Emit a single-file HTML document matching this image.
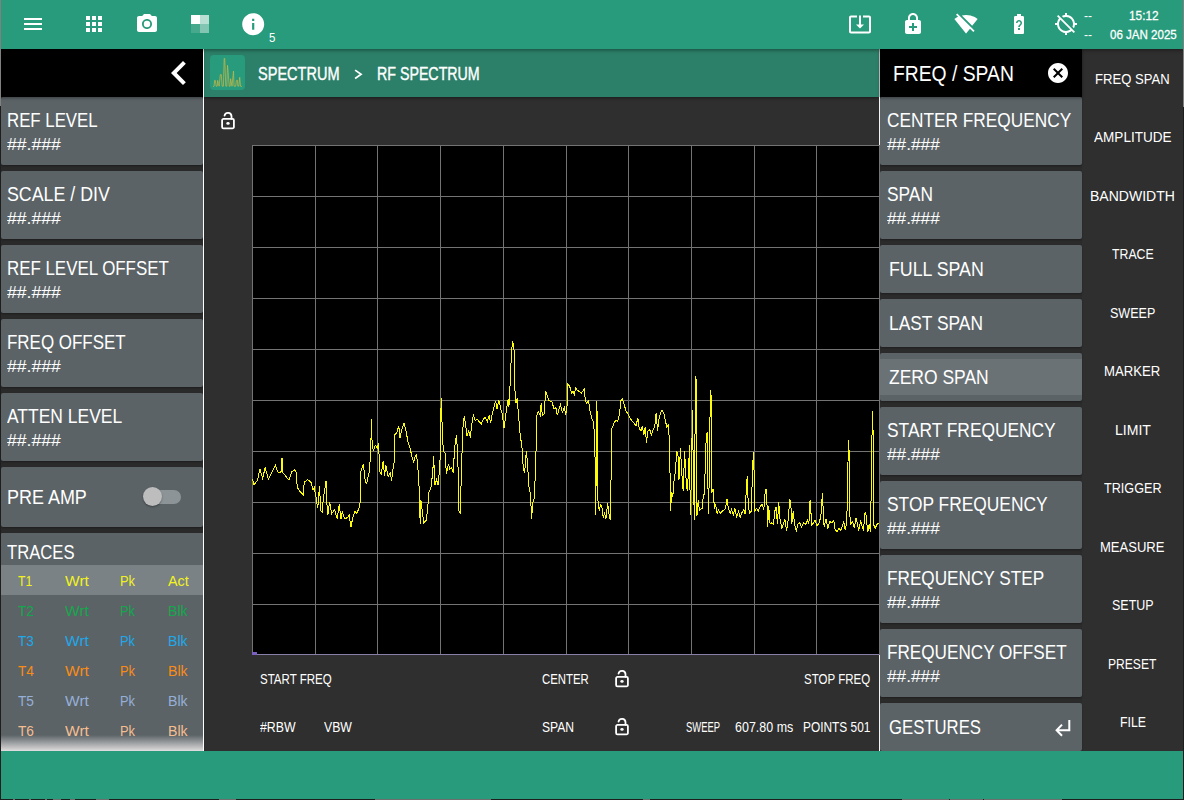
<!DOCTYPE html>
<html lang="en">
<head>
<meta charset="utf-8">
<title>Spectrum Analyzer - RF Spectrum</title>
<style>
html,body{margin:0;padding:0}
body{width:1184px;height:800px;position:relative;overflow:hidden;background:#2f2f2f;font-family:"Liberation Sans",sans-serif;color:#fff}
#app{position:absolute;left:0;top:0;width:1184px;height:800px;overflow:hidden}
#app div,#app span,#app svg{position:absolute}
.p{}
.b{background:#5b6367;border-radius:2px;box-shadow:0 1px 2px rgba(0,0,0,.3)}
.t{z-index:6;white-space:nowrap;transform-origin:0 0;display:block}
.ov{left:0;top:0;pointer-events:none;z-index:3}
#top{left:0;top:0;width:1184px;height:49px;background:#289b7c;box-shadow:0 1px 4px rgba(0,0,0,.45);z-index:5}
#bot{left:0;top:751px;width:1184px;height:47.5px;background:#289b7c}
#strip{left:0;top:798.5px;width:1184px;height:1.5px;background:#1e1e1e}
#strip i{position:absolute;top:0;height:2px;background:#6e6e6e}
svg.i{fill:#fff;z-index:4}
</style>
</head>
<body>
<div id="app">
<div class="p" style="left:0px;top:49px;width:203px;height:48px;background:#000;box-shadow:0 1px 3px rgba(0,0,0,.4);z-index:2"></div>
<div class="p" style="left:0px;top:97px;width:203px;height:654px;background:#2a2a2a"></div>
<div class="p" style="left:204px;top:49px;width:675px;height:48px;background:#2c8069;box-shadow:0 1px 3px rgba(0,0,0,.45)"></div>
<div class="p" style="left:880px;top:49px;width:202px;height:48px;background:#000;box-shadow:0 1px 3px rgba(0,0,0,.4);z-index:2"></div>
<div class="p" style="left:880px;top:97px;width:202px;height:654px;background:#2b2b2b"></div>
<div class="p" style="left:202.9px;top:49px;width:1.3px;height:702px;background:#fff;z-index:3"></div>
<div class="p" style="left:879px;top:49px;width:1.2px;height:48px;background:#b4b4b4;z-index:3"></div>
<div class="p" style="left:879px;top:97px;width:1.2px;height:654px;background:#f4f4f4;z-index:3"></div>
<div class="p" style="left:252px;top:145px;width:627px;height:510px;background:#000"></div>
<div class="b" style="left:1px;top:97px;width:201.8px;height:68px;"></div>
<span class="t " style="left:7.30px;top:110.20px;font-size:20.6px;line-height:20.6px;transform:scaleX(0.8163);">REF LEVEL</span>
<span class="t " style="left:7.40px;top:136.90px;font-size:16.8px;line-height:16.8px;transform:scaleX(1.0486);">##.###</span>
<div class="b" style="left:1px;top:171px;width:201.8px;height:68px;"></div>
<span class="t " style="left:7.30px;top:184.20px;font-size:20.6px;line-height:20.6px;transform:scaleX(0.8639);">SCALE / DIV</span>
<span class="t " style="left:7.40px;top:210.90px;font-size:16.8px;line-height:16.8px;transform:scaleX(1.0486);">##.###</span>
<div class="b" style="left:1px;top:245px;width:201.8px;height:68px;"></div>
<span class="t " style="left:7.30px;top:258.20px;font-size:20.6px;line-height:20.6px;transform:scaleX(0.8202);">REF LEVEL OFFSET</span>
<span class="t " style="left:7.40px;top:284.90px;font-size:16.8px;line-height:16.8px;transform:scaleX(1.0486);">##.###</span>
<div class="b" style="left:1px;top:319px;width:201.8px;height:68px;"></div>
<span class="t " style="left:7.30px;top:332.20px;font-size:20.6px;line-height:20.6px;transform:scaleX(0.8232);">FREQ OFFSET</span>
<span class="t " style="left:7.40px;top:358.90px;font-size:16.8px;line-height:16.8px;transform:scaleX(1.0486);">##.###</span>
<div class="b" style="left:1px;top:393px;width:201.8px;height:68px;"></div>
<span class="t " style="left:7.30px;top:406.20px;font-size:20.6px;line-height:20.6px;transform:scaleX(0.8481);">ATTEN LEVEL</span>
<span class="t " style="left:7.40px;top:432.90px;font-size:16.8px;line-height:16.8px;transform:scaleX(1.0486);">##.###</span>
<div class="b" style="left:1px;top:467px;width:201.8px;height:60px;"></div>
<span class="t " style="left:7.10px;top:487.00px;font-size:20.6px;line-height:20.6px;transform:scaleX(0.8719);">PRE AMP</span>
<div class="p" style="left:146px;top:490px;width:35px;height:14px;background:#8d9497;border-radius:7px"></div>
<div class="p" style="left:143px;top:487px;width:19px;height:19px;background:#bdbdbd;border-radius:50%;box-shadow:0 1px 2px rgba(0,0,0,.35)"></div>
<div class="b" style="left:1px;top:533px;width:202px;height:218px;border-radius:1px 0 0 0"></div>
<span class="t " style="left:7.30px;top:541.70px;font-size:20.6px;line-height:20.6px;transform:scaleX(0.8082);">TRACES</span>
<div class="p" style="left:1px;top:565px;width:202px;height:30px;background:#7a8286"></div>
<span class="t " style="left:18.30px;top:574.00px;font-size:14.5px;line-height:14.5px;color:#f2f21e;transform:scaleX(0.8415);">T1</span>
<span class="t " style="left:64.80px;top:574.00px;font-size:14.5px;line-height:14.5px;color:#f2f21e;transform:scaleX(1.0742);">Wrt</span>
<span class="t " style="left:120.10px;top:574.00px;font-size:14.5px;line-height:14.5px;color:#f2f21e;transform:scaleX(0.8882);">Pk</span>
<span class="t " style="left:167.60px;top:574.00px;font-size:14.5px;line-height:14.5px;color:#f2f21e;transform:scaleX(0.9905);">Act</span>
<span class="t " style="left:18.20px;top:604.00px;font-size:14.5px;line-height:14.5px;color:#14a84c;transform:scaleX(0.9422);">T2</span>
<span class="t " style="left:64.80px;top:604.00px;font-size:14.5px;line-height:14.5px;color:#14a84c;transform:scaleX(1.0742);">Wrt</span>
<span class="t " style="left:120.10px;top:604.00px;font-size:14.5px;line-height:14.5px;color:#14a84c;transform:scaleX(0.8882);">Pk</span>
<span class="t " style="left:168.40px;top:604.00px;font-size:14.5px;line-height:14.5px;color:#14a84c;transform:scaleX(0.9728);">Blk</span>
<span class="t " style="left:18.20px;top:634.00px;font-size:14.5px;line-height:14.5px;color:#1fa8ea;transform:scaleX(0.9422);">T3</span>
<span class="t " style="left:64.80px;top:634.00px;font-size:14.5px;line-height:14.5px;color:#1fa8ea;transform:scaleX(1.0742);">Wrt</span>
<span class="t " style="left:120.10px;top:634.00px;font-size:14.5px;line-height:14.5px;color:#1fa8ea;transform:scaleX(0.8882);">Pk</span>
<span class="t " style="left:168.40px;top:634.00px;font-size:14.5px;line-height:14.5px;color:#1fa8ea;transform:scaleX(0.9728);">Blk</span>
<span class="t " style="left:18.20px;top:664.00px;font-size:14.5px;line-height:14.5px;color:#fa8c16;transform:scaleX(0.9422);">T4</span>
<span class="t " style="left:64.80px;top:664.00px;font-size:14.5px;line-height:14.5px;color:#fa8c16;transform:scaleX(1.0742);">Wrt</span>
<span class="t " style="left:120.10px;top:664.00px;font-size:14.5px;line-height:14.5px;color:#fa8c16;transform:scaleX(0.8882);">Pk</span>
<span class="t " style="left:168.40px;top:664.00px;font-size:14.5px;line-height:14.5px;color:#fa8c16;transform:scaleX(0.9728);">Blk</span>
<span class="t " style="left:18.20px;top:694.00px;font-size:14.5px;line-height:14.5px;color:#96afd7;transform:scaleX(0.9422);">T5</span>
<span class="t " style="left:64.80px;top:694.00px;font-size:14.5px;line-height:14.5px;color:#96afd7;transform:scaleX(1.0742);">Wrt</span>
<span class="t " style="left:120.10px;top:694.00px;font-size:14.5px;line-height:14.5px;color:#96afd7;transform:scaleX(0.8882);">Pk</span>
<span class="t " style="left:168.40px;top:694.00px;font-size:14.5px;line-height:14.5px;color:#96afd7;transform:scaleX(0.9728);">Blk</span>
<span class="t " style="left:18.20px;top:724.00px;font-size:14.5px;line-height:14.5px;color:#f5be91;transform:scaleX(0.9422);">T6</span>
<span class="t " style="left:64.80px;top:724.00px;font-size:14.5px;line-height:14.5px;color:#f5be91;transform:scaleX(1.0742);">Wrt</span>
<span class="t " style="left:120.10px;top:724.00px;font-size:14.5px;line-height:14.5px;color:#f5be91;transform:scaleX(0.8882);">Pk</span>
<span class="t " style="left:168.40px;top:724.00px;font-size:14.5px;line-height:14.5px;color:#f5be91;transform:scaleX(0.9728);">Blk</span>
<div class="p" style="left:1px;top:735px;width:202px;height:16px;background:linear-gradient(to bottom,rgba(228,225,225,0),rgba(228,225,225,.97))"></div>
<div class="b" style="left:880px;top:97px;width:202px;height:68px;"></div>
<span class="t " style="left:886.80px;top:110.20px;font-size:20.6px;line-height:20.6px;transform:scaleX(0.8383);">CENTER FREQUENCY</span>
<span class="t " style="left:886.80px;top:136.90px;font-size:16.8px;line-height:16.8px;transform:scaleX(1.0272);">##.###</span>
<div class="b" style="left:880px;top:171px;width:202px;height:68px;"></div>
<span class="t " style="left:886.80px;top:184.20px;font-size:20.6px;line-height:20.6px;transform:scaleX(0.8413);">SPAN</span>
<span class="t " style="left:886.80px;top:210.90px;font-size:16.8px;line-height:16.8px;transform:scaleX(1.0272);">##.###</span>
<div class="b" style="left:880px;top:245px;width:202px;height:48px;"></div>
<span class="t " style="left:888.80px;top:258.80px;font-size:20.6px;line-height:20.6px;transform:scaleX(0.8629);">FULL SPAN</span>
<div class="b" style="left:880px;top:299px;width:202px;height:48px;"></div>
<span class="t " style="left:888.80px;top:312.80px;font-size:20.6px;line-height:20.6px;transform:scaleX(0.8431);">LAST SPAN</span>
<div class="b" style="left:880px;top:353px;width:202px;height:48px;"></div>
<div class="p" style="left:880px;top:359px;width:202px;height:36px;background:#6b7276"></div>
<span class="t " style="left:888.80px;top:366.80px;font-size:20.6px;line-height:20.6px;transform:scaleX(0.8486);">ZERO SPAN</span>
<div class="b" style="left:880px;top:407px;width:202px;height:68px;"></div>
<span class="t " style="left:886.80px;top:420.20px;font-size:20.6px;line-height:20.6px;transform:scaleX(0.8424);">START FREQUENCY</span>
<span class="t " style="left:886.80px;top:446.90px;font-size:16.8px;line-height:16.8px;transform:scaleX(1.0272);">##.###</span>
<div class="b" style="left:880px;top:481px;width:202px;height:68px;"></div>
<span class="t " style="left:886.80px;top:494.20px;font-size:20.6px;line-height:20.6px;transform:scaleX(0.8440);">STOP FREQUENCY</span>
<span class="t " style="left:886.80px;top:520.90px;font-size:16.8px;line-height:16.8px;transform:scaleX(1.0272);">##.###</span>
<div class="b" style="left:880px;top:555px;width:202px;height:68px;"></div>
<span class="t " style="left:886.80px;top:568.20px;font-size:20.6px;line-height:20.6px;transform:scaleX(0.8339);">FREQUENCY STEP</span>
<span class="t " style="left:886.80px;top:594.90px;font-size:16.8px;line-height:16.8px;transform:scaleX(1.0272);">##.###</span>
<div class="b" style="left:880px;top:629px;width:202px;height:68px;"></div>
<span class="t " style="left:886.80px;top:642.20px;font-size:20.6px;line-height:20.6px;transform:scaleX(0.8320);">FREQUENCY OFFSET</span>
<span class="t " style="left:886.80px;top:668.90px;font-size:16.8px;line-height:16.8px;transform:scaleX(1.0272);">##.###</span>
<div class="b" style="left:880px;top:703px;width:202px;height:48px;"></div>
<span class="t " style="left:888.80px;top:716.80px;font-size:20.6px;line-height:20.6px;transform:scaleX(0.8116);">GESTURES</span>
<span class="t " style="left:893.00px;top:62.80px;font-size:22px;line-height:22px;transform:scaleX(0.8777);">FREQ / SPAN</span>
<span class="t " style="left:1095.20px;top:71.90px;font-size:14.5px;line-height:14.5px;transform:scaleX(0.9015);">FREQ SPAN</span>
<span class="t " style="left:1093.70px;top:130.40px;font-size:14.5px;line-height:14.5px;transform:scaleX(0.9349);">AMPLITUDE</span>
<span class="t " style="left:1090.10px;top:188.90px;font-size:14.5px;line-height:14.5px;transform:scaleX(0.9664);">BANDWIDTH</span>
<span class="t " style="left:1111.65px;top:247.40px;font-size:14.5px;line-height:14.5px;transform:scaleX(0.8489);">TRACE</span>
<span class="t " style="left:1109.85px;top:305.90px;font-size:14.5px;line-height:14.5px;transform:scaleX(0.8649);">SWEEP</span>
<span class="t " style="left:1104.45px;top:364.40px;font-size:14.5px;line-height:14.5px;transform:scaleX(0.9048);">MARKER</span>
<span class="t " style="left:1114.55px;top:422.90px;font-size:14.5px;line-height:14.5px;transform:scaleX(0.9703);">LIMIT</span>
<span class="t " style="left:1103.75px;top:481.40px;font-size:14.5px;line-height:14.5px;transform:scaleX(0.8712);">TRIGGER</span>
<span class="t " style="left:1100.25px;top:539.90px;font-size:14.5px;line-height:14.5px;transform:scaleX(0.8990);">MEASURE</span>
<span class="t " style="left:1111.70px;top:598.40px;font-size:14.5px;line-height:14.5px;transform:scaleX(0.8599);">SETUP</span>
<span class="t " style="left:1108.35px;top:656.90px;font-size:14.5px;line-height:14.5px;transform:scaleX(0.8328);">PRESET</span>
<span class="t " style="left:1119.50px;top:715.40px;font-size:14.5px;line-height:14.5px;transform:scaleX(0.8490);">FILE</span>
<span class="t " style="left:258.30px;top:65.00px;font-size:18.9px;line-height:18.9px;transform:scaleX(0.7697);-webkit-text-stroke:.4px #fff;">SPECTRUM</span>
<span class="t " style="left:376.60px;top:65.00px;font-size:18.9px;line-height:18.9px;transform:scaleX(0.7528);-webkit-text-stroke:.4px #fff;">RF SPECTRUM</span>
<span class="t " style="left:260.30px;top:672.10px;font-size:14.5px;line-height:14.5px;transform:scaleX(0.7945);">START FREQ</span>
<span class="t " style="left:542.20px;top:672.10px;font-size:14.5px;line-height:14.5px;transform:scaleX(0.7849);">CENTER</span>
<span class="t " style="left:804.30px;top:672.10px;font-size:14.5px;line-height:14.5px;transform:scaleX(0.7952);">STOP FREQ</span>
<span class="t " style="left:260.30px;top:720.00px;font-size:14.5px;line-height:14.5px;transform:scaleX(0.8500);">#RBW</span>
<span class="t " style="left:324.00px;top:720.00px;font-size:14.5px;line-height:14.5px;transform:scaleX(0.8453);">VBW</span>
<span class="t " style="left:542.20px;top:720.00px;font-size:14.5px;line-height:14.5px;transform:scaleX(0.8365);">SPAN</span>
<span class="t " style="left:685.70px;top:720.00px;font-size:14.5px;line-height:14.5px;transform:scaleX(0.6511);">SWEEP</span>
<span class="t " style="left:735.30px;top:720.00px;font-size:14.5px;line-height:14.5px;transform:scaleX(0.8605);">607.80 ms</span>
<span class="t " style="left:802.80px;top:720.00px;font-size:14.5px;line-height:14.5px;transform:scaleX(0.8195);">POINTS 501</span>
<span class="t " style="left:268.60px;top:31.20px;font-size:13px;line-height:13px;transform:scaleX(0.8828);">5</span>
<span class="t " style="left:1128.50px;top:8.70px;font-size:13.5px;line-height:13.5px;transform:scaleX(0.8741);-webkit-text-stroke:.3px #fff;">15:12</span>
<span class="t " style="left:1109.60px;top:27.80px;font-size:13.5px;line-height:13.5px;transform:scaleX(0.8551);-webkit-text-stroke:.3px #fff;">06 JAN 2025</span>
<span class="t " style="left:1084.00px;top:8.50px;font-size:13px;line-height:13px;transform:scaleX(0.9275);">--</span>
<span class="t " style="left:1084.00px;top:27.50px;font-size:13px;line-height:13px;transform:scaleX(0.9275);">--</span>
<svg class="ov" width="1184" height="800" viewBox="0 0 1184 800">
<g stroke="#737373" stroke-width="1" shape-rendering="crispEdges"><line x1="252.5" y1="145" x2="252.5" y2="655"/><line x1="315.2" y1="145" x2="315.2" y2="655"/><line x1="377.9" y1="145" x2="377.9" y2="655"/><line x1="440.6" y1="145" x2="440.6" y2="655"/><line x1="503.3" y1="145" x2="503.3" y2="655"/><line x1="566.0" y1="145" x2="566.0" y2="655"/><line x1="628.7" y1="145" x2="628.7" y2="655"/><line x1="691.4" y1="145" x2="691.4" y2="655"/><line x1="754.1" y1="145" x2="754.1" y2="655"/><line x1="816.8" y1="145" x2="816.8" y2="655"/><line x1="879.5" y1="145" x2="879.5" y2="655"/><line x1="252" y1="145.5" x2="879" y2="145.5"/><line x1="252" y1="196.5" x2="879" y2="196.5"/><line x1="252" y1="247.5" x2="879" y2="247.5"/><line x1="252" y1="298.5" x2="879" y2="298.5"/><line x1="252" y1="349.5" x2="879" y2="349.5"/><line x1="252" y1="400.5" x2="879" y2="400.5"/><line x1="252" y1="451.5" x2="879" y2="451.5"/><line x1="252" y1="502.5" x2="879" y2="502.5"/><line x1="252" y1="553.5" x2="879" y2="553.5"/><line x1="252" y1="604.5" x2="879" y2="604.5"/><line x1="252" y1="654.5" x2="879" y2="654.5"/></g>
<line x1="252" y1="654.5" x2="879" y2="654.5" stroke="#8a7fa8" stroke-width="1" shape-rendering="crispEdges"/>
<rect x="252" y="652" width="5" height="3" fill="#7a5fc0"/>
<svg x="252" y="145" width="627" height="510" viewBox="252 145 627 510"><polyline fill="none" stroke="#fcfc08" stroke-width="1" shape-rendering="crispEdges" stroke-linejoin="miter" points="252.6,479.0 253.9,484.8 257.3,480.8 260.0,469.0 262.6,478.2 265.2,467.7 268.4,479.5 271.0,474.3 275.4,465.6 278.3,473.0 281.5,471.6 282.0,457.7 282.8,473.0 285.4,475.6 288.8,480.0 292.0,471.6 294.6,469.8 296.4,473.0 297.2,487.4 299.8,491.3 303.2,494.7 304.3,482.1 307.7,479.5 310.9,482.1 313.0,490.0 314.3,487.4 316.1,497.9 317.7,508.4 319.5,486.1 320.8,511.0 322.1,512.3 323.4,497.9 326.1,480.8 326.6,500.5 327.9,514.9 329.5,501.8 331.8,513.6 334.5,509.7 337.3,518.9 339.2,504.4 341.0,518.9 342.3,511.0 344.4,518.9 347.6,517.5 349.1,514.9 351.0,526.7 352.8,517.5 354.9,511.0 356.8,513.6 358.9,508.4 360.2,501.8 360.7,471.6 363.3,463.8 365.4,482.1 366.7,483.4 369.3,471.6 370.7,453.3 371.4,419.2 372.2,445.4 373.3,450.7 375.4,445.4 377.2,448.0 378.5,442.8 379.8,471.6 381.1,474.3 383.2,461.1 384.6,475.6 385.9,465.1 388.2,476.9 390.3,473.0 391.6,480.8 393.0,469.0 394.3,461.1 394.8,434.9 396.9,432.3 398.7,425.7 400.0,437.5 402.1,428.4 403.9,423.1 405.8,429.7 407.9,441.5 410.0,448.0 411.8,455.9 413.6,462.5 415.2,455.9 416.5,454.6 417.8,466.4 419.1,487.4 420.2,524.1 421.0,500.5 422.3,511.0 423.6,522.8 426.2,520.2 427.5,511.0 428.9,492.6 431.0,487.4 432.8,471.6 433.6,455.9 434.9,484.8 436.7,479.5 438.0,484.8 439.9,466.4 440.7,416.6 441.4,397.7 442.2,429.7 443.3,450.7 445.1,453.3 446.4,474.3 448.5,463.8 449.8,469.0 451.7,467.7 453.2,473.0 454.6,448.0 456.4,434.9 457.7,453.3 459.0,511.0 460.3,513.6 461.6,463.8 463.0,427.0 464.3,416.0 465.6,424.4 466.9,436.2 468.7,431.0 470.3,437.5 472.1,421.8 473.4,415.2 475.3,420.5 477.4,419.2 479.2,421.8 481.3,423.9 483.4,419.2 485.2,417.1 487.3,421.8 489.2,415.2 490.5,423.1 492.3,413.9 493.9,407.4 495.7,400.8 497.0,408.7 498.9,400.3 501.0,410.0 502.3,413.9 504.1,428.4 505.7,415.2 507.0,406.1 508.1,399.5 508.9,407.4 510.2,382.5 511.5,351.0 512.8,341.0 514.1,351.0 514.9,389.0 515.9,403.4 517.2,398.2 518.6,416.6 520.1,433.6 522.0,448.0 523.3,469.0 524.6,473.0 526.4,450.7 527.7,466.4 529.0,487.4 530.4,493.9 531.7,518.9 532.5,503.1 534.3,497.9 535.9,461.1 536.4,416.6 538.2,411.3 540.3,415.2 541.1,403.4 542.4,415.2 544.3,413.9 545.6,390.9 546.9,394.3 548.7,400.8 550.0,400.8 552.1,402.1 553.9,408.7 555.8,407.4 557.3,415.2 559.2,408.7 560.5,404.8 562.3,412.6 564.4,407.4 565.7,415.2 567.0,406.1 567.8,383.8 569.7,386.4 571.5,393.0 573.1,391.6 574.4,395.6 575.4,387.7 577.5,390.3 579.4,391.6 581.5,393.0 584.1,389.0 585.4,400.8 586.7,403.4 588.6,400.8 590.1,411.3 592.0,419.2 593.3,421.8 594.6,434.9 595.4,476.9 595.9,514.9 596.4,400.8 597.2,413.9 598.0,500.5 599.3,511.0 600.4,504.4 601.7,505.7 603.2,517.5 604.6,513.6 605.9,518.9 607.7,503.1 609.0,513.6 610.3,520.2 610.9,495.2 611.4,429.7 613.0,425.7 614.3,421.8 616.1,420.5 617.7,421.8 619.5,413.9 620.8,400.8 622.1,398.7 624.2,404.8 626.1,411.3 627.9,413.9 630.0,417.9 631.8,420.5 633.9,423.1 636.0,425.7 637.9,417.9 639.2,428.4 641.0,431.0 642.3,425.7 643.9,434.9 645.2,427.0 646.5,442.8 647.8,431.0 649.7,429.7 651.5,434.9 653.1,429.7 654.9,425.7 656.2,412.6 657.5,431.0 658.9,419.2 660.2,413.9 662.0,410.0 664.1,413.9 665.4,420.5 666.7,427.0 668.6,424.4 669.3,442.8 670.1,476.9 670.7,511.0 671.4,492.6 672.8,496.6 673.8,482.1 675.4,471.6 676.7,450.7 678.0,455.9 679.0,479.5 680.4,448.0 681.7,471.6 683.2,491.3 684.6,450.7 685.9,476.9 687.2,491.3 688.5,471.6 689.5,445.4 690.3,514.9 691.6,469.0 692.4,410.0 693.2,461.1 694.3,520.2 695.0,434.9 695.8,375.9 696.4,385.1 696.9,516.2 698.2,500.5 699.5,511.0 700.0,509.7 702.1,508.4 703.1,497.9 704.5,492.7 705.8,445.5 707.1,432.3 707.9,484.8 708.7,513.7 709.7,435.0 710.5,390.4 711.3,398.2 711.8,492.7 713.1,488.8 714.4,508.4 715.7,504.5 717.1,513.7 718.4,509.7 720.2,513.7 722.3,511.1 724.9,509.7 726.2,504.5 727.0,499.2 728.3,508.4 730.2,513.7 731.5,509.7 733.3,515.0 734.9,508.4 736.7,516.8 738.6,511.1 740.1,517.6 742.0,512.4 743.8,509.7 745.1,513.7 746.4,487.4 747.2,476.4 748.0,497.9 749.3,513.7 751.2,511.1 752.0,487.4 753.3,452.0 754.1,471.7 754.6,511.1 756.4,508.4 758.3,511.1 760.4,505.8 762.2,504.5 763.8,509.7 765.1,492.7 766.1,488.8 766.9,500.6 767.7,526.8 768.7,505.8 770.1,524.2 771.6,522.9 773.5,524.2 774.8,511.1 776.1,507.1 777.4,524.2 778.7,501.9 780.0,518.9 781.9,528.1 783.4,524.2 784.8,518.9 786.6,530.7 788.4,518.9 789.7,499.2 790.8,503.2 791.8,524.2 793.2,511.1 794.5,524.2 796.3,531.5 797.9,524.2 799.7,522.9 801.5,526.8 803.6,522.9 805.7,524.2 807.6,520.2 808.9,524.2 809.7,501.9 810.5,500.6 811.5,525.5 813.4,522.9 814.9,520.2 816.8,525.5 818.6,524.2 820.2,518.9 821.5,511.1 822.3,492.7 823.3,511.1 824.1,526.8 826.0,518.9 827.8,528.1 829.9,521.6 832.0,522.9 833.8,520.2 835.1,529.4 837.0,531.5 839.1,528.1 840.9,530.7 842.5,525.5 843.8,521.6 845.1,529.4 846.4,524.2 847.5,500.6 848.3,440.2 849.0,448.1 849.6,513.7 850.9,524.2 852.7,521.6 854.3,528.1 856.1,517.6 857.4,524.2 858.8,530.7 860.6,520.2 862.2,526.8 863.5,530.7 864.8,513.7 865.8,512.4 866.9,524.2 867.9,532.0 869.2,524.2 870.6,531.5 871.3,479.6 872.4,411.3 873.2,435.0 874.0,525.5 875.3,528.1 877.1,524.2 879.0,522.9"/></svg>
</svg>
<div id="bot"></div>
<div id="strip"><i style="left:13px;width:2px"></i><i style="left:29px;width:2px"></i><i style="left:45px;width:2px"></i><i style="left:53px;width:8px"></i><i style="left:70px;width:5px"></i><i style="left:96px;width:13px"></i><i style="left:219px;width:17px"></i><i style="left:375px;width:116px"></i><i style="left:643px;width:7px"></i><i style="left:902px;width:47px"></i><i style="left:950px;width:33px"></i><i style="left:984px;width:78px"></i></div>
<div id="top">
<svg class="i" style="left:21px;top:12px" width="24" height="24" viewBox="0 0 24 24"><path d="M3 18h18v-2H3v2zm0-5h18v-2H3v2zm0-7v2h18V6H3z"/></svg>
<svg class="i" style="left:82px;top:12px" width="24" height="24" viewBox="0 0 24 24"><path d="M4 8h4V4H4v4zm6 12h4v-4h-4v4zm-6 0h4v-4H4v4zm0-6h4v-4H4v4zm6 0h4v-4h-4v4zm6-10v4h4V4h-4zm-6 4h4V4h-4v4zm6 6h4v-4h-4v4zm0 6h4v-4h-4v4z"/></svg>
<svg class="i" style="left:135px;top:12px" width="24" height="24" viewBox="0 0 24 24"><circle cx="12" cy="12" r="3.2"/><path d="M9 2L7.17 4H4c-1.1 0-2 .9-2 2v12c0 1.1.9 2 2 2h16c1.1 0 2-.9 2-2V6c0-1.1-.9-2-2-2h-3.17L15 2H9zm3 15c-2.76 0-5-2.24-5-5s2.24-5 5-5 5 2.24 5 5-2.24 5-5 5z"/></svg>
<svg class="i" style="left:191px;top:15px" width="18" height="18" viewBox="0 0 18 18"><rect x="0" y="0" width="9" height="9" fill="#fff"/><rect x="9" y="0" width="9" height="9" fill="#fff" fill-opacity=".68"/><rect x="0" y="9" width="9" height="9" fill="#fff" fill-opacity=".14"/><rect x="9" y="9" width="9" height="9" fill="#fff" fill-opacity=".42"/></svg>
<svg class="i" style="left:239.8px;top:10.8px" width="26.4" height="26.4" viewBox="0 0 24 24"><path d="M12 2C6.48 2 2 6.48 2 12s4.48 10 10 10 10-4.48 10-10S17.52 2 12 2zm1 15h-2v-6h2v6zm0-8h-2V7h2v2z"/></svg>
<svg class="i" style="left:848px;top:12px" width="24" height="24" viewBox="0 0 24 24"><path d="M12 16.5l4-4h-3v-9h-2v9H8l4 4zm9-13h-6v1.99h6v14.03H3V5.49h6V3.500H3c-1.1 0-2 .9-2 2v14c0 1.1.9 2 2 2h18c1.1 0 2-.9 2-2v-14c0-1.1-.9-2-2-2z"/></svg>
<svg class="i" style="left:901px;top:12px" width="24" height="24" viewBox="0 0 24 24"><path d="M18 8h-1V6c0-2.76-2.24-5-5-5S7 3.240 7 6v2H6c-1.100 0-2 .9-2 2v10c0 1.100.9 2 2 2h12c1.100 0 2-.9 2-2V10c0-1.100-.9-2-2-2zM8.900 6c0-1.710 1.390-3.100 3.100-3.100s3.100 1.390 3.100 3.100v2H8.900V6zM16 16h-3v3h-2v-3H8v-2h3v-3h2v3h3v2z"/></svg>
<svg class="i" style="left:954.3px;top:12px" width="24" height="24" viewBox="0 0 24 24"><path d="M23.640 7c-.45-.34-4.930-4-11.640-4-1.500 0-2.890.19-4.150.48L18.180 13.800 23.640 7zm-6.600 8.220L3.270 1.440 2 2.720l2.050 2.060C1.910 5.760.59 6.820.36 7l11.630 14.490.1.010.01-.01 3.900-4.860 3.320 3.320 1.270-1.270-3.460-3.460z"/></svg>
<svg class="i" style="left:1007px;top:12px" width="24" height="24" viewBox="0 0 24 24"><path d="M15.670 4H14V2h-4v2H8.330C7.600 4 7 4.600 7 5.330v15.330C7 21.400 7.600 22 8.330 22h7.330c.74 0 1.340-.6 1.340-1.330V5.330C17 4.600 16.400 4 15.670 4zm-2.720 13.950h-1.900v-1.900h1.900v1.900zm1.350-5.260s-.38.420-.67.710c-.48.480-.83 1.150-.83 1.600h-1.600c0-.83.46-1.520.93-2l.93-.94c.27-.27.440-.65.440-1.060 0-.83-.67-1.500-1.500-1.500s-1.500.67-1.500 1.500H9c0-1.660 1.340-3 3-3s3 1.340 3 3c0 .66-.27 1.260-.7 1.690z"/></svg>
<svg class="i" style="left:1054px;top:12px" width="24" height="24" viewBox="0 0 24 24"><path d="M20.940 11c-.46-4.170-3.770-7.480-7.940-7.940V1h-2v2.060c-1.130.12-2.190.46-3.160.97l1.500 1.500C10.160 5.190 11.060 5 12 5c3.870 0 7 3.130 7 7 0 .94-.19 1.840-.52 2.650l1.500 1.500c.5-.96.84-2.020.97-3.150H23v-2h-2.060zM3 4.270l2.040 2.040C3.970 7.620 3.250 9.230 3.060 11H1v2h2.060c.46 4.170 3.770 7.480 7.940 7.940V23h2v-2.060c1.770-.2 3.380-.91 4.690-1.980L19.730 21 21 19.730 4.270 3 3 4.270zm13.270 13.270C15.090 18.450 13.610 19 12 19c-3.870 0-7-3.130-7-7 0-1.610.55-3.090 1.460-4.270l9.810 9.810z"/></svg>
</div>
<svg class="i" style="left:155px;top:49px" width="48" height="48" viewBox="0 0 24 24"><path d="M15.410 7.410L14 6l-6 6 6 6 1.410-1.410L10.830 12z"/></svg>
<svg class="i" style="left:1046.2px;top:61px" width="24" height="24" viewBox="0 0 24 24"><path d="M12 2C6.470 2 2 6.470 2 12s4.470 10 10 10 10-4.470 10-10S17.530 2 12 2zm5 13.590L15.590 17 12 13.410 8.410 17 7 15.590 10.590 12 7 8.410 8.410 7 12 10.590 15.590 7 17 8.410 13.410 12 17 15.590z"/></svg>

<svg class="ov" width="1184" height="800" viewBox="0 0 1184 800">

<polyline points="355.1,70.1 361.1,74.3 355.1,78.5" fill="none" stroke="#fff" stroke-width="1.7"/>
<g transform="translate(228 123.4)" fill="none" stroke="#fff" stroke-width="1.8" stroke-linecap="round"><rect x="-5.9" y="-4.5" width="11.8" height="9.4" rx="1.4"/><path d="M-3.45 -7.7A3.5 3.5 0 0 1 3.5 -7.2V-4.6"/><ellipse cx="0" cy="0" rx="1.7" ry="1.4" fill="#fff" stroke="none"/></g>
<g transform="translate(622 681.4)" fill="none" stroke="#fff" stroke-width="1.8" stroke-linecap="round"><rect x="-5.9" y="-4.5" width="11.8" height="9.4" rx="1.4"/><path d="M-3.45 -7.7A3.5 3.5 0 0 1 3.5 -7.2V-4.6"/><ellipse cx="0" cy="0" rx="1.7" ry="1.4" fill="#fff" stroke="none"/></g>
<g transform="translate(622 729.4)" fill="none" stroke="#fff" stroke-width="1.8" stroke-linecap="round"><rect x="-5.9" y="-4.5" width="11.8" height="9.4" rx="1.4"/><path d="M-3.45 -7.7A3.5 3.5 0 0 1 3.5 -7.2V-4.6"/><ellipse cx="0" cy="0" rx="1.7" ry="1.4" fill="#fff" stroke="none"/></g>
<rect x="210" y="55" width="35" height="35" rx="4" fill="#289b7c"/>
<polyline fill="none" stroke="#c9b845" stroke-width=".9" stroke-opacity=".8" points="213,86.600 214.100,86.200 214.600,80.400 215.300,80.400 216.200,86.200 217.200,86.200 217.700,80.400 218.400,83.500 219.200,86.200 220.300,74.600 221.300,74.600 222.100,86.200 223.400,86.200 224.200,58.400 224.700,58.400 225.800,86.200 226.800,86.200 227.500,65.300 228.200,72.500 229.200,86.200 230.200,86.200 230.600,78.700 232,86.200 233.500,71.100 234,86.200 235.700,86.200 236.400,80.400 237.500,80.400 237.800,86.200 238.800,86.200 239.700,77.300 240.500,86.200 241.900,86.600"/>
<path d="M1069.3 720V730.2H1057.4M1062 724.6L1056.6 730.2L1062 735.8" fill="none" stroke="#fff" stroke-width="2" stroke-linejoin="miter"/>
</svg>
<div id="el" style="left:0;top:0;width:1px;height:800px;z-index:9;background:linear-gradient(to bottom,#808080 0,#808080 106px,#1e1e1e 106px)"></div>
<div id="er" style="left:1183px;top:0;width:1px;height:800px;z-index:9;background:linear-gradient(to bottom,#808080 0,#808080 107px,#1e1e1e 107px)"></div>
</div>
</body>
</html>
